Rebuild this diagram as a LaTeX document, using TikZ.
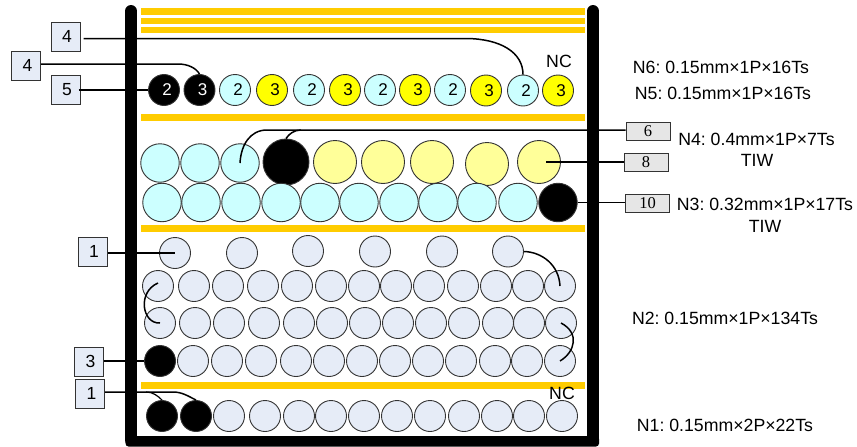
\documentclass[tikz,border=0pt]{standalone}
\usepackage{fontspec}
\setmainfont{Liberation Sans}
\newfontfamily\serifbox{Liberation Serif}
\frenchspacing
\definecolor{barc}{HTML}{FFCC00}
\definecolor{cyanc}{HTML}{CCFFFF}
\definecolor{yelc}{HTML}{FFFF00}
\definecolor{paley}{HTML}{FFFF99}
\definecolor{bluec}{HTML}{E6ECF7}
\definecolor{edgec}{HTML}{333333}
\definecolor{greyc}{HTML}{E6E6E6}
\newcommand{\dg}[1]{\kern6pt #1}
\newcommand{\tg}[1]{\kern3pt #1}
\tikzset{
 wall/.style={line width=12,line cap=round,black},
 bar/.style={fill=barc,draw=none},
 wire/.style={line width=1.5,black},
 wirefine/.style={line width=1.2,black},
 strand/.style={circle,draw=edgec,line width=0.9,inner sep=0,minimum size=31,font=\fontsize{17}{17}\selectfont},
 cy/.style={strand,fill=cyanc},
 ye/.style={strand,fill=yelc},
 bk/.style={strand,fill=black,text=white},
 bl/.style={strand,fill=bluec},
 cybig/.style={strand,fill=cyanc,minimum size=38.5},
 pybig/.style={strand,fill=paley,minimum size=43},
 tag/.style={rectangle,draw=edgec,line width=1,fill=bluec,inner sep=0,minimum width=29,minimum height=29,font=\fontsize{17.5}{17.5}\selectfont},
 gtag/.style={rectangle,draw=edgec,line width=1,fill=greyc,inner sep=0,minimum width=44,minimum height=18,font=\serifbox\fontsize{16.5}{16.5}\selectfont},
 spec/.style={font=\fontsize{17.7}{17.7}\selectfont,inner sep=0},
}
\begin{document}
\begin{tikzpicture}[x=1pt,y=-1pt]
\useasboundingbox (0,0) rectangle (857,447);
% walls
\draw[wall] (131,11) -- (131,440);
\draw[wall] (593,11) -- (593,440);
\fill[black,rounded corners=3] (125.5,436) rectangle (599,446.5);
% insulation bars
\foreach \ya/\yb in {8/15,18/24,27/33,114/120.5,225/232,382/389}
  \fill[bar] (141,\ya) rectangle (585,\yb);
% N5 / N6
\node[bk] (a1) at (164,90) {\dg{2}};
\node[bk] (a2) at (199.5,90) {\dg{3}};
\node[cy] (a3) at (235,90) {\dg{2}};
\node[ye] (a4) at (272,90) {\dg{3}};
\node[cy] (a5) at (309,90) {\dg{2}};
\node[ye] (a6) at (345,90) {\dg{3}};
\node[cy] (a7) at (380,90) {\dg{2}};
\node[ye] (a8) at (415,90) {\dg{3}};
\node[cy] (a9) at (450,90) {\dg{2}};
\node[ye] (a10) at (486,90.5) {\dg{3}};
\node[cy] (a11) at (523,90.5) {\dg{2}};
\node[ye] (a12) at (558,90.5) {\dg{3}};
% N4
\node[cybig] (b1) at (160,163) {};
\node[cybig] (b2) at (200,163) {};
\node[cybig] (b3) at (240,163) {};
\node[strand,fill=black,minimum size=46] (b4) at (286,162) {};
\node[pybig] (b5) at (335,162) {};
\node[pybig] (b6) at (383,162) {};
\node[pybig] (b7) at (432,162) {};
\node[pybig] (b8) at (487,164) {};
\node[pybig] (b9) at (539,162) {};
% N3
\foreach \x [count=\i] in {162,201,241,281,320,359,399,438,477,518}
  \node[cybig] (c\i) at (\x,202.5) {};
\node[cybig,fill=black] (c11) at (558,202.5) {};
% N2
\node[bl] (d1) at (175,253) {};
\node[bl] (d2) at (242,253) {};
\node[bl] (d3) at (308,251) {};
\node[bl] (d4) at (375,251.5) {};
\node[bl] (d5) at (442,251.5) {};
\node[bl] (d6) at (508,251.5) {};
\foreach \x [count=\i] in {158,194,228,263,297,331,364,396,429,463,496,528,560}
  \node[bl] (e\i) at (\x,286) {};
\foreach \x [count=\i] in {160,195,229,264,299,332,365,398,431,464,498,529,561}
  \node[bl] (f\i) at (\x,323) {};
\node[bk] (g1) at (160,361) {};
\foreach \x [count=\i from 2] in {193,227,261,296,329,362,395,428,461,495,527,560}
  \node[bl] (g\i) at (\x,361) {};
% N1
\node[bk] (h1) at (162,416) {};
\node[bk] (h2) at (196,416) {};
\foreach \x [count=\i from 3] in {229,265,299,331,364,397,430,464,497,529,562}
  \node[bl] (h\i) at (\x,416) {};
% tags
\node[tag] (t4a) at (65.5,36.5) {\tg{4}};
\node[tag] (t4b) at (26,65.5) {\tg{4}};
\node[tag] (t5) at (65.5,89.5) {\tg{5}};
\node[tag] (t1a) at (92.5,251.5) {\tg{1}};
\node[tag] (t3) at (89,361.5) {\tg{3}};
\node[tag] (t1b) at (90,393.5) {\tg{1}};
\node[gtag] (t6) at (648,131) {6};
\node[gtag] (t8) at (646,162.5) {8};
\node[gtag] (t10) at (647.5,203) {10};
% connectors
\coordinate (p4a) at ([shift={(3,2)}]t4a.east);
\draw[wire] (p4a) -- (467,38.5) .. controls (500,39) and (523,52) .. (a11.north);
\draw[wire] (t4b.east |- 0,64) -- (178,64) .. controls (188,64) and (196,68) .. (a2.north);
\draw[wire] ([xshift=-2]t5.east |- a1.west) -- (a1.west);
\draw[wire] (t1a.east |- d1.center) -- (d1.center);
\draw[wire] (t3.east |- g1.west) -- (g1.west);
\draw[wire] (b3.center) .. controls (241,145) and (250,130) .. (267,130) -- (t6.west |- 0,130);
\draw[wire] (b4.north) .. controls (289,134) and (294,130) .. (301,130);
\draw[wire] ([xshift=7]b9.center) -- (t8.west |- b9.center);
\draw[wire] (c11.east) -- (t10.west |- c11.east);
\draw[wire] (t1b.east |- 0,392) -- (173,392) .. controls (182,392) and (188,396) .. (h2.north);
\draw[wirefine] (146,392) .. controls (153,392) and (158,396) .. (h1.north);
\draw[wire] (d6.east) .. controls (542,252) and (559,265) .. (e13.center);
\draw[wire] ([yshift=3]e1.center) .. controls (137,292) and (142,324) .. (f1.center);
\draw[wire] (f13.center) .. controls (580,333) and (575,352) .. (g13.center);
% labels
\node[spec] (nc1) at (559,61) {NC};
\node[spec] (nc2) at (562,393) {NC};
\node[spec] (n6) at (721,67) {N6: 0.15mm×1P×16Ts};
\node[spec] (n5) at (723,93) {N5: 0.15mm×1P×16Ts};
\node[spec] (n4) at (756.5,139) {N4: 0.4mm×1P×7Ts};
\node[spec] (n4b) at (757,160) {TIW};
\node[spec] (n3) at (765,204) {N3: 0.32mm×1P×17Ts};
\node[spec] (n3b) at (765,226) {TIW};
\node[spec] (n2) at (725,318) {N2: 0.15mm×1P×134Ts};
\node[spec] (n1) at (725,425) {N1: 0.15mm×2P×22Ts};
\end{tikzpicture}
\end{document}
